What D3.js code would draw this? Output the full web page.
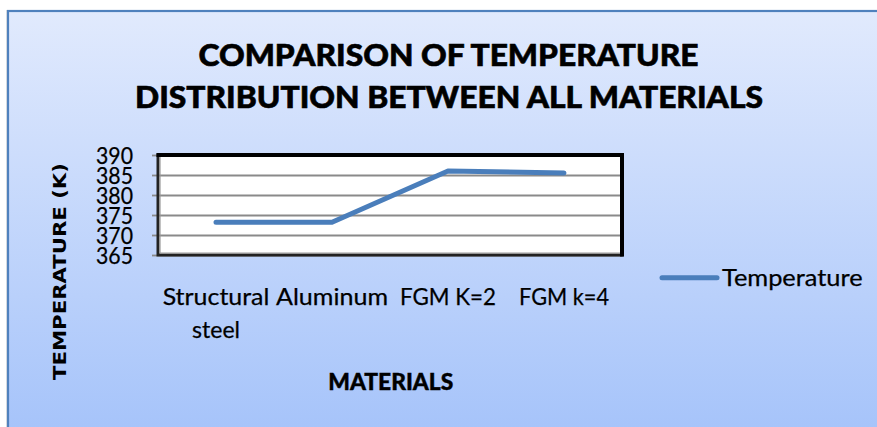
<!DOCTYPE html>
<html>
<head>
<meta charset="utf-8">
<script src="https://cdn.jsdelivr.net/npm/d3@7"></script>
<style>
html,body{margin:0;padding:0;background:#fff;}
svg{display:block;}
text{font-family:Lato,"Open Sans","Liberation Sans",sans-serif;fill:#000;}
</style>
</head>
<body>
<svg id="chart" width="877" height="427"></svg>
<script>
// ---- data ----
const categories = ["Structural steel", "Aluminum", "FGM K=2", "FGM k=4"];
const categoryLines = [["Structural", "steel"], ["Aluminum"], ["FGM K=2"], ["FGM k=4"]];
const temperature = [373.2, 373.2, 386.0, 385.5];
const yTicks = [365, 370, 375, 380, 385, 390];
const seriesName = "Temperature";
const titleLines = ["COMPARISON OF TEMPERATURE", "DISTRIBUTION BETWEEN ALL MATERIALS"];
const xTitle = "MATERIALS";
const yTitle = "TEMPERATURE (K)";

// ---- layout ----
const W = 877, H = 427;
const plot = {left: 158, top: 155, right: 622, bottom: 255};
const svg = d3.select("#chart");

function fit(sel, w) { sel.attr("textLength", w).attr("lengthAdjust", "spacingAndGlyphs"); return sel; }

// background
const defs = svg.append("defs");
const grad = defs.append("linearGradient").attr("id", "bg").attr("x1", 0).attr("y1", 0).attr("x2", 0).attr("y2", 1);
grad.append("stop").attr("offset", "0%").attr("stop-color", "#e1eafd");
grad.append("stop").attr("offset", "100%").attr("stop-color", "#a5c3fa");
svg.append("rect").attr("x", 6).attr("y", 10).attr("width", W).attr("height", H).attr("fill", "#c8c8c8").attr("opacity", 0.5);
svg.append("rect").attr("x", 8).attr("y", 11).attr("width", W).attr("height", H)
  .attr("fill", "url(#bg)").attr("stroke", "#4f81bd").attr("stroke-width", 2.2);

// title
const title = svg.append("g");
fit(title.append("text").attr("x", 448.5).attr("y", 65.7).attr("text-anchor", "middle")
  .style("font-weight", 900).style("font-size", "30px")
  .attr("stroke", "#000").attr("stroke-width", 0.6).text(titleLines[0]), 500);
fit(title.append("text").attr("x", 449).attr("y", 108.3).attr("text-anchor", "middle")
  .style("font-weight", 900).style("font-size", "30px")
  .attr("stroke", "#000").attr("stroke-width", 0.6).text(titleLines[1]), 628);

// scales
const x = d3.scaleBand().domain(categories).range([plot.left, plot.right]);
const y = d3.scaleLinear().domain([365, 390]).range([plot.bottom, plot.top]);
const cx = c => x(c) + x.bandwidth() / 2;

// plot area
svg.append("rect").attr("x", plot.left).attr("y", plot.top)
  .attr("width", plot.right - plot.left).attr("height", plot.bottom - plot.top).attr("fill", "#fff");

// gridlines
const grid = svg.append("g").attr("transform", `translate(${plot.left},0)`)
  .call(d3.axisLeft(y).tickValues(yTicks).tickSize(-(plot.right - plot.left)).tickFormat(""));
grid.select(".domain").remove();
grid.selectAll(".tick line").attr("stroke", "#8a8a8a").attr("stroke-width", 1.8);

// y axis
const yAxis = svg.append("g").attr("transform", `translate(${plot.left},0)`)
  .call(d3.axisLeft(y).tickValues(yTicks).tickSize(6).tickPadding(19));
yAxis.select(".domain").remove();
yAxis.selectAll(".tick line").attr("stroke", "#8a8a8a").attr("stroke-width", 1.8);
yAxis.selectAll(".tick text").style("font-size", "23px").attr("dy", "0.36em")
  .style("font-family", "Lato,'Open Sans',sans-serif").attr("fill", "#000")
  .attr("stroke", "#000").attr("stroke-width", 0.25)
  .each(function(){ fit(d3.select(this), 37); });

// plot border
svg.append("rect").attr("x", plot.left).attr("y", plot.top)
  .attr("width", plot.right - plot.left).attr("height", plot.bottom - plot.top)
  .attr("fill", "none").attr("stroke", "#222").attr("stroke-width", 3);
svg.append("path").attr("d", `M${plot.left - 1.5},${plot.top} H${plot.right} V${plot.bottom + 1.5}`)
  .attr("fill", "none").attr("stroke", "#000").attr("stroke-width", 4);
svg.append("path").attr("d", `M${plot.left + 2},${plot.top + 2} V${plot.bottom - 2} H${plot.right - 2}`)
  .attr("fill", "none").attr("stroke", "#9a9a9a").attr("stroke-width", 1.2);

// line
const line = d3.line().x((d, i) => cx(categories[i])).y(d => y(d));
svg.append("path").datum(temperature).attr("d", line)
  .attr("fill", "none").attr("stroke", "#4a7ebb").attr("stroke-width", 5)
  .attr("stroke-linecap", "round").attr("stroke-linejoin", "round");

// x labels
const labelWidths = [[106.7, 48], [112], [96], [90]];
const xl = svg.append("g");
categories.forEach((c, i) => {
  categoryLines[i].forEach((t, j) => {
    fit(xl.append("text").attr("x", cx(c)).attr("y", 305 + j * 33.3).attr("text-anchor", "middle")
      .style("font-size", "23.5px").attr("stroke", "#000").attr("stroke-width", 0.25).text(t), labelWidths[i][j]);
  });
});

// axis titles
fit(svg.append("text").attr("x", 390.8).attr("y", 390).attr("text-anchor", "middle")
  .style("font-weight", 900).style("font-size", "23.3px")
  .attr("stroke", "#000").attr("stroke-width", 0.4).text(xTitle), 125);
fit(svg.append("text").attr("transform", "translate(65.5,271.5) rotate(-90)").attr("text-anchor", "middle")
  .style("font-weight", 700).style("font-size", "18.5px").style("font-family", "'DejaVu Sans',sans-serif")
  .text(yTitle), 217);

// legend
const lg = svg.append("g");
lg.append("line").attr("x1", 662).attr("x2", 717).attr("y1", 277.7).attr("y2", 277.7)
  .attr("stroke", "#4a7ebb").attr("stroke-width", 5).attr("stroke-linecap", "round");
fit(lg.append("text").attr("x", 722).attr("y", 286).style("font-size", "24px")
  .attr("stroke", "#000").attr("stroke-width", 0.25).text(seriesName), 140.6);
</script>
</body>
</html>
